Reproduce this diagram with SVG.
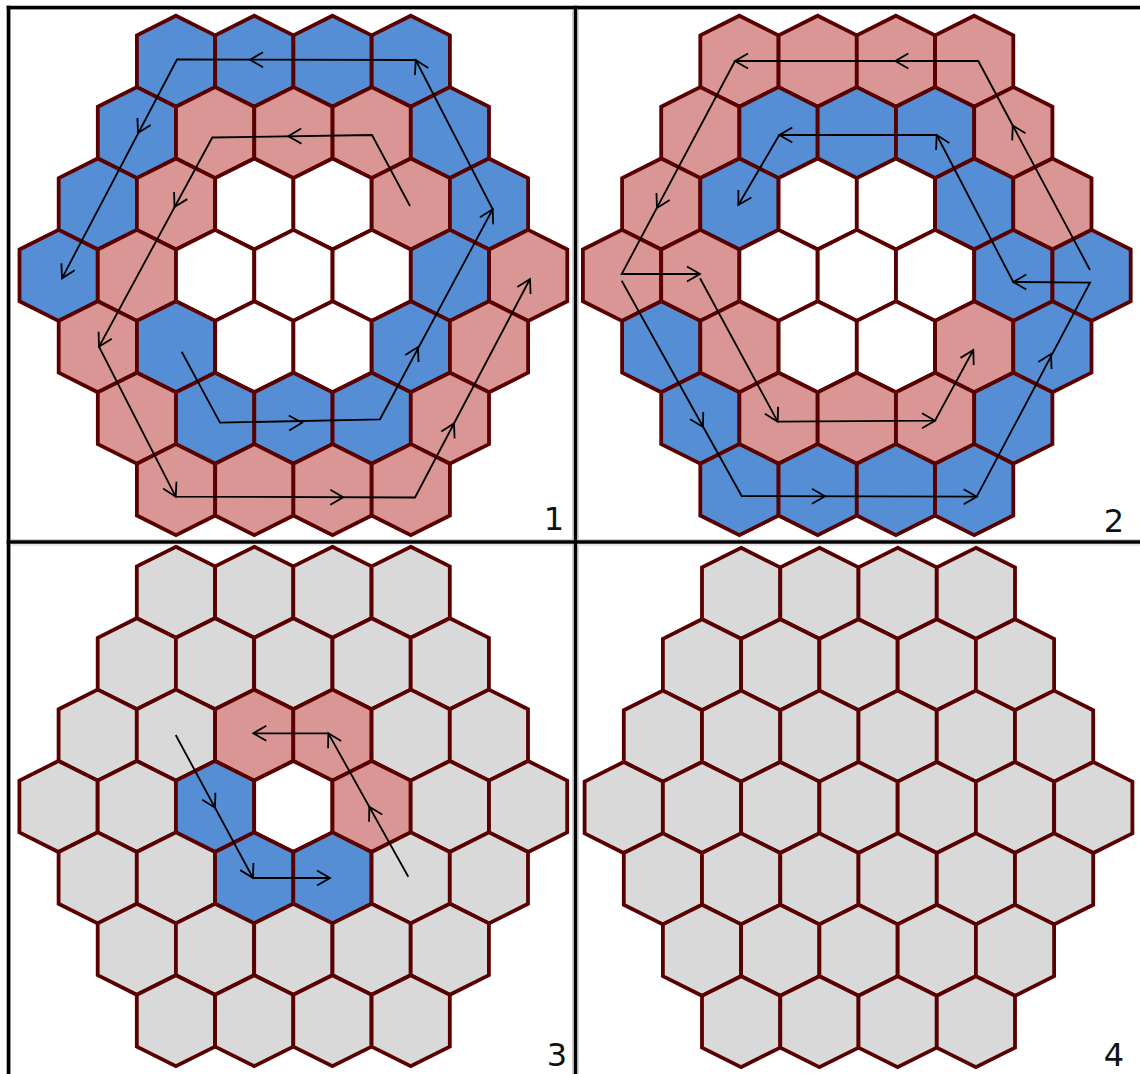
<svg xmlns="http://www.w3.org/2000/svg" width="1140" height="1074" viewBox="0 0 1140 1074">
<style>
use.h{stroke:#5a0000;stroke-width:3.8;stroke-linejoin:miter}
.b{fill:#558ed5}.p{fill:#d99694}.w{fill:#ffffff}.g{fill:#d9d9d9}
.ar{fill:none;stroke:#000;stroke-width:1.8;stroke-linejoin:miter}
.frame{stroke:#000;stroke-width:3.6;fill:none}
.cell{stroke:#d0d0d0;stroke-width:1;fill:none}
.lbl{font-family:"DejaVu Sans","Liberation Sans",sans-serif;font-size:32px;fill:#111;text-anchor:middle}
</style>
<defs>
<path id="hex" d="M0,-45.5 L39.1,-25.9 L39.1,25.9 L0,45.5 L-39.1,25.9 L-39.1,-25.9 Z"/>
<path id="ah" d="M-13,-7.5 L0,0 L-13,7.5" fill="none" stroke="#000" stroke-width="1.8"/>
</defs>
<rect width="1140" height="1074" fill="#fff"/>
<g id="cells">
<rect class="cell" x="10.5" y="9.5" width="562" height="530"/>
<rect class="cell" x="578.5" y="9.5" width="570" height="530"/>
<rect class="cell" x="10.5" y="545" width="562" height="540"/>
<rect class="cell" x="578.5" y="545" width="570" height="540"/>
</g>
<g id="frame">
<line class="frame" x1="8.5" y1="5.7" x2="8.5" y2="1074"/>
<line class="frame" x1="6.7" y1="7.5" x2="1140" y2="7.5"/>
<line class="frame" x1="575.5" y1="5.7" x2="575.5" y2="1074"/>
<line class="frame" x1="6.7" y1="542" x2="1140" y2="542"/>
</g>

<g id="panel1" transform="translate(293.4,275.4)">
<use id="p1-0-0" class="h b" href="#hex" x="-117.4" y="-214.2"/>
<use id="p1-0-1" class="h b" href="#hex" x="-39.1" y="-214.2"/>
<use id="p1-0-2" class="h b" href="#hex" x="39.1" y="-214.2"/>
<use id="p1-0-3" class="h b" href="#hex" x="117.4" y="-214.2"/>
<use id="p1-1-0" class="h b" href="#hex" x="-156.5" y="-142.8"/>
<use id="p1-1-1" class="h p" href="#hex" x="-78.3" y="-142.8"/>
<use id="p1-1-2" class="h p" href="#hex" x="0" y="-142.8"/>
<use id="p1-1-3" class="h p" href="#hex" x="78.3" y="-142.8"/>
<use id="p1-1-4" class="h b" href="#hex" x="156.5" y="-142.8"/>
<use id="p1-2-0" class="h b" href="#hex" x="-195.6" y="-71.4"/>
<use id="p1-2-1" class="h p" href="#hex" x="-117.4" y="-71.4"/>
<use id="p1-2-2" class="h w" href="#hex" x="-39.1" y="-71.4"/>
<use id="p1-2-3" class="h w" href="#hex" x="39.1" y="-71.4"/>
<use id="p1-2-4" class="h p" href="#hex" x="117.4" y="-71.4"/>
<use id="p1-2-5" class="h b" href="#hex" x="195.6" y="-71.4"/>
<use id="p1-3-0" class="h b" href="#hex" x="-234.8" y="0"/>
<use id="p1-3-1" class="h p" href="#hex" x="-156.5" y="0"/>
<use id="p1-3-2" class="h w" href="#hex" x="-78.3" y="0"/>
<use id="p1-3-3" class="h w" href="#hex" x="0" y="0"/>
<use id="p1-3-4" class="h w" href="#hex" x="78.3" y="0"/>
<use id="p1-3-5" class="h b" href="#hex" x="156.5" y="0"/>
<use id="p1-3-6" class="h p" href="#hex" x="234.8" y="0"/>
<use id="p1-4-0" class="h p" href="#hex" x="-195.6" y="71.4"/>
<use id="p1-4-1" class="h b" href="#hex" x="-117.4" y="71.4"/>
<use id="p1-4-2" class="h w" href="#hex" x="-39.1" y="71.4"/>
<use id="p1-4-3" class="h w" href="#hex" x="39.1" y="71.4"/>
<use id="p1-4-4" class="h b" href="#hex" x="117.4" y="71.4"/>
<use id="p1-4-5" class="h p" href="#hex" x="195.6" y="71.4"/>
<use id="p1-5-0" class="h p" href="#hex" x="-156.5" y="142.8"/>
<use id="p1-5-1" class="h b" href="#hex" x="-78.3" y="142.8"/>
<use id="p1-5-2" class="h b" href="#hex" x="0" y="142.8"/>
<use id="p1-5-3" class="h b" href="#hex" x="78.3" y="142.8"/>
<use id="p1-5-4" class="h p" href="#hex" x="156.5" y="142.8"/>
<use id="p1-6-0" class="h p" href="#hex" x="-117.4" y="214.2"/>
<use id="p1-6-1" class="h p" href="#hex" x="-39.1" y="214.2"/>
<use id="p1-6-2" class="h p" href="#hex" x="39.1" y="214.2"/>
<use id="p1-6-3" class="h p" href="#hex" x="117.4" y="214.2"/>
</g>

<g id="panel2" transform="translate(856.8,275.4)">
<use id="p2-0-0" class="h p" href="#hex" x="-117.4" y="-214.2"/>
<use id="p2-0-1" class="h p" href="#hex" x="-39.1" y="-214.2"/>
<use id="p2-0-2" class="h p" href="#hex" x="39.1" y="-214.2"/>
<use id="p2-0-3" class="h p" href="#hex" x="117.4" y="-214.2"/>
<use id="p2-1-0" class="h p" href="#hex" x="-156.5" y="-142.8"/>
<use id="p2-1-1" class="h b" href="#hex" x="-78.3" y="-142.8"/>
<use id="p2-1-2" class="h b" href="#hex" x="0" y="-142.8"/>
<use id="p2-1-3" class="h b" href="#hex" x="78.3" y="-142.8"/>
<use id="p2-1-4" class="h p" href="#hex" x="156.5" y="-142.8"/>
<use id="p2-2-0" class="h p" href="#hex" x="-195.6" y="-71.4"/>
<use id="p2-2-1" class="h b" href="#hex" x="-117.4" y="-71.4"/>
<use id="p2-2-2" class="h w" href="#hex" x="-39.1" y="-71.4"/>
<use id="p2-2-3" class="h w" href="#hex" x="39.1" y="-71.4"/>
<use id="p2-2-4" class="h b" href="#hex" x="117.4" y="-71.4"/>
<use id="p2-2-5" class="h p" href="#hex" x="195.6" y="-71.4"/>
<use id="p2-3-0" class="h p" href="#hex" x="-234.8" y="0"/>
<use id="p2-3-1" class="h p" href="#hex" x="-156.5" y="0"/>
<use id="p2-3-2" class="h w" href="#hex" x="-78.3" y="0"/>
<use id="p2-3-3" class="h w" href="#hex" x="0" y="0"/>
<use id="p2-3-4" class="h w" href="#hex" x="78.3" y="0"/>
<use id="p2-3-5" class="h b" href="#hex" x="156.5" y="0"/>
<use id="p2-3-6" class="h b" href="#hex" x="234.8" y="0"/>
<use id="p2-4-0" class="h b" href="#hex" x="-195.6" y="71.4"/>
<use id="p2-4-1" class="h p" href="#hex" x="-117.4" y="71.4"/>
<use id="p2-4-2" class="h w" href="#hex" x="-39.1" y="71.4"/>
<use id="p2-4-3" class="h w" href="#hex" x="39.1" y="71.4"/>
<use id="p2-4-4" class="h p" href="#hex" x="117.4" y="71.4"/>
<use id="p2-4-5" class="h b" href="#hex" x="195.6" y="71.4"/>
<use id="p2-5-0" class="h b" href="#hex" x="-156.5" y="142.8"/>
<use id="p2-5-1" class="h p" href="#hex" x="-78.3" y="142.8"/>
<use id="p2-5-2" class="h p" href="#hex" x="0" y="142.8"/>
<use id="p2-5-3" class="h p" href="#hex" x="78.3" y="142.8"/>
<use id="p2-5-4" class="h b" href="#hex" x="156.5" y="142.8"/>
<use id="p2-6-0" class="h b" href="#hex" x="-117.4" y="214.2"/>
<use id="p2-6-1" class="h b" href="#hex" x="-39.1" y="214.2"/>
<use id="p2-6-2" class="h b" href="#hex" x="39.1" y="214.2"/>
<use id="p2-6-3" class="h b" href="#hex" x="117.4" y="214.2"/>
</g>

<g id="panel3" transform="translate(293.3,806.5)">
<use id="p3-0-0" class="h g" href="#hex" x="-117.4" y="-214.2"/>
<use id="p3-0-1" class="h g" href="#hex" x="-39.1" y="-214.2"/>
<use id="p3-0-2" class="h g" href="#hex" x="39.1" y="-214.2"/>
<use id="p3-0-3" class="h g" href="#hex" x="117.4" y="-214.2"/>
<use id="p3-1-0" class="h g" href="#hex" x="-156.5" y="-142.8"/>
<use id="p3-1-1" class="h g" href="#hex" x="-78.3" y="-142.8"/>
<use id="p3-1-2" class="h g" href="#hex" x="0" y="-142.8"/>
<use id="p3-1-3" class="h g" href="#hex" x="78.3" y="-142.8"/>
<use id="p3-1-4" class="h g" href="#hex" x="156.5" y="-142.8"/>
<use id="p3-2-0" class="h g" href="#hex" x="-195.6" y="-71.4"/>
<use id="p3-2-1" class="h g" href="#hex" x="-117.4" y="-71.4"/>
<use id="p3-2-2" class="h p" href="#hex" x="-39.1" y="-71.4"/>
<use id="p3-2-3" class="h p" href="#hex" x="39.1" y="-71.4"/>
<use id="p3-2-4" class="h g" href="#hex" x="117.4" y="-71.4"/>
<use id="p3-2-5" class="h g" href="#hex" x="195.6" y="-71.4"/>
<use id="p3-3-0" class="h g" href="#hex" x="-234.8" y="0"/>
<use id="p3-3-1" class="h g" href="#hex" x="-156.5" y="0"/>
<use id="p3-3-2" class="h b" href="#hex" x="-78.3" y="0"/>
<use id="p3-3-3" class="h w" href="#hex" x="0" y="0"/>
<use id="p3-3-4" class="h p" href="#hex" x="78.3" y="0"/>
<use id="p3-3-5" class="h g" href="#hex" x="156.5" y="0"/>
<use id="p3-3-6" class="h g" href="#hex" x="234.8" y="0"/>
<use id="p3-4-0" class="h g" href="#hex" x="-195.6" y="71.4"/>
<use id="p3-4-1" class="h g" href="#hex" x="-117.4" y="71.4"/>
<use id="p3-4-2" class="h b" href="#hex" x="-39.1" y="71.4"/>
<use id="p3-4-3" class="h b" href="#hex" x="39.1" y="71.4"/>
<use id="p3-4-4" class="h g" href="#hex" x="117.4" y="71.4"/>
<use id="p3-4-5" class="h g" href="#hex" x="195.6" y="71.4"/>
<use id="p3-5-0" class="h g" href="#hex" x="-156.5" y="142.8"/>
<use id="p3-5-1" class="h g" href="#hex" x="-78.3" y="142.8"/>
<use id="p3-5-2" class="h g" href="#hex" x="0" y="142.8"/>
<use id="p3-5-3" class="h g" href="#hex" x="78.3" y="142.8"/>
<use id="p3-5-4" class="h g" href="#hex" x="156.5" y="142.8"/>
<use id="p3-6-0" class="h g" href="#hex" x="-117.4" y="214.2"/>
<use id="p3-6-1" class="h g" href="#hex" x="-39.1" y="214.2"/>
<use id="p3-6-2" class="h g" href="#hex" x="39.1" y="214.2"/>
<use id="p3-6-3" class="h g" href="#hex" x="117.4" y="214.2"/>
</g>

<g id="panel4" transform="translate(858.5,807.5)">
<use id="p4-0-0" class="h g" href="#hex" x="-117.4" y="-214.2"/>
<use id="p4-0-1" class="h g" href="#hex" x="-39.1" y="-214.2"/>
<use id="p4-0-2" class="h g" href="#hex" x="39.1" y="-214.2"/>
<use id="p4-0-3" class="h g" href="#hex" x="117.4" y="-214.2"/>
<use id="p4-1-0" class="h g" href="#hex" x="-156.5" y="-142.8"/>
<use id="p4-1-1" class="h g" href="#hex" x="-78.3" y="-142.8"/>
<use id="p4-1-2" class="h g" href="#hex" x="0" y="-142.8"/>
<use id="p4-1-3" class="h g" href="#hex" x="78.3" y="-142.8"/>
<use id="p4-1-4" class="h g" href="#hex" x="156.5" y="-142.8"/>
<use id="p4-2-0" class="h g" href="#hex" x="-195.6" y="-71.4"/>
<use id="p4-2-1" class="h g" href="#hex" x="-117.4" y="-71.4"/>
<use id="p4-2-2" class="h g" href="#hex" x="-39.1" y="-71.4"/>
<use id="p4-2-3" class="h g" href="#hex" x="39.1" y="-71.4"/>
<use id="p4-2-4" class="h g" href="#hex" x="117.4" y="-71.4"/>
<use id="p4-2-5" class="h g" href="#hex" x="195.6" y="-71.4"/>
<use id="p4-3-0" class="h g" href="#hex" x="-234.8" y="0"/>
<use id="p4-3-1" class="h g" href="#hex" x="-156.5" y="0"/>
<use id="p4-3-2" class="h g" href="#hex" x="-78.3" y="0"/>
<use id="p4-3-3" class="h g" href="#hex" x="0" y="0"/>
<use id="p4-3-4" class="h g" href="#hex" x="78.3" y="0"/>
<use id="p4-3-5" class="h g" href="#hex" x="156.5" y="0"/>
<use id="p4-3-6" class="h g" href="#hex" x="234.8" y="0"/>
<use id="p4-4-0" class="h g" href="#hex" x="-195.6" y="71.4"/>
<use id="p4-4-1" class="h g" href="#hex" x="-117.4" y="71.4"/>
<use id="p4-4-2" class="h g" href="#hex" x="-39.1" y="71.4"/>
<use id="p4-4-3" class="h g" href="#hex" x="39.1" y="71.4"/>
<use id="p4-4-4" class="h g" href="#hex" x="117.4" y="71.4"/>
<use id="p4-4-5" class="h g" href="#hex" x="195.6" y="71.4"/>
<use id="p4-5-0" class="h g" href="#hex" x="-156.5" y="142.8"/>
<use id="p4-5-1" class="h g" href="#hex" x="-78.3" y="142.8"/>
<use id="p4-5-2" class="h g" href="#hex" x="0" y="142.8"/>
<use id="p4-5-3" class="h g" href="#hex" x="78.3" y="142.8"/>
<use id="p4-5-4" class="h g" href="#hex" x="156.5" y="142.8"/>
<use id="p4-6-0" class="h g" href="#hex" x="-117.4" y="214.2"/>
<use id="p4-6-1" class="h g" href="#hex" x="-39.1" y="214.2"/>
<use id="p4-6-2" class="h g" href="#hex" x="39.1" y="214.2"/>
<use id="p4-6-3" class="h g" href="#hex" x="117.4" y="214.2"/>
</g>

<g id="connectors">
<polyline class="ar" points="181.7,351.7 220,422.7 380,419.3 492.7,209.3 415.7,60 177,59.5 62,278.3"/>
<use href="#ah" transform="translate(302,422.8) rotate(-1.2)"/>
<use href="#ah" transform="translate(418,347) rotate(-61.8)"/>
<use href="#ah" transform="translate(492.7,209.3) rotate(-61.8)"/>
<use href="#ah" transform="translate(415.7,60) rotate(-117.3)"/>
<use href="#ah" transform="translate(250,59.7) rotate(180)"/>
<use href="#ah" transform="translate(138,133) rotate(117.7)"/>
<use href="#ah" transform="translate(62,278.3) rotate(117.7)"/>

<polyline class="ar" points="410,206 372,135 212.3,137.5 99,346.7 175.7,496.7 415,497.5 530,279"/>
<use href="#ah" transform="translate(288.3,136.3) rotate(179.1)"/>
<use href="#ah" transform="translate(174.5,207) rotate(118.4)"/>
<use href="#ah" transform="translate(99,346.7) rotate(118.4)"/>
<use href="#ah" transform="translate(175.7,496.7) rotate(62.9)"/>
<use href="#ah" transform="translate(343.3,497.3) rotate(0)"/>
<use href="#ah" transform="translate(454,423.4) rotate(-62.2)"/>
<use href="#ah" transform="translate(530,279) rotate(-62.2)"/>

<polyline class="ar" points="1090,270 978.3,61 735,61 621.7,274 700,274"/>
<use href="#ah" transform="translate(1012.7,125.4) rotate(-118.1)"/>
<use href="#ah" transform="translate(895.3,61) rotate(180)"/>
<use href="#ah" transform="translate(735,61) rotate(180)"/>
<use href="#ah" transform="translate(657,208) rotate(118)"/>
<use href="#ah" transform="translate(700,274) rotate(0)"/>
<polyline class="ar" points="700,278.3 777.7,421.7 935,420.7 973.3,350"/>
<use href="#ah" transform="translate(777.7,421.7) rotate(61.5)"/>
<use href="#ah" transform="translate(935,420.7) rotate(0)"/>
<use href="#ah" transform="translate(973.3,350) rotate(-61.6)"/>

<polyline class="ar" points="621.7,280.7 741.7,496 976.7,496.7 1090,282.7 1013.3,282 936.7,135 779.3,135 738.3,205"/>
<use href="#ah" transform="translate(703,427) rotate(60.9)"/>
<use href="#ah" transform="translate(825,496.3) rotate(0)"/>
<use href="#ah" transform="translate(976.7,496.7) rotate(0)"/>
<use href="#ah" transform="translate(1051,354) rotate(-62.1)"/>
<use href="#ah" transform="translate(1013.3,282) rotate(180)"/>
<use href="#ah" transform="translate(936.7,135) rotate(-117.5)"/>
<use href="#ah" transform="translate(779.3,135) rotate(180)"/>
<use href="#ah" transform="translate(738.3,205) rotate(120.4)"/>

<polyline class="ar" points="408.3,876.7 328.3,733.3 253.3,733.3"/>
<use href="#ah" transform="translate(369.3,806.8) rotate(-119.2)"/>
<use href="#ah" transform="translate(328.3,733.3) rotate(-119.2)"/>
<use href="#ah" transform="translate(253.3,733.3) rotate(180)"/>
<polyline class="ar" points="175.7,735 253,878 330,878"/>
<use href="#ah" transform="translate(215,807.7) rotate(61.6)"/>
<use href="#ah" transform="translate(253,878) rotate(61.6)"/>
<use href="#ah" transform="translate(330,878) rotate(0)"/>
</g>

<g id="labels">
<text class="lbl" x="554" y="530">1</text>
<text class="lbl" x="1114" y="532">2</text>
<text class="lbl" x="557" y="1066">3</text>
<text class="lbl" x="1114" y="1066">4</text>
</g>
</svg>
